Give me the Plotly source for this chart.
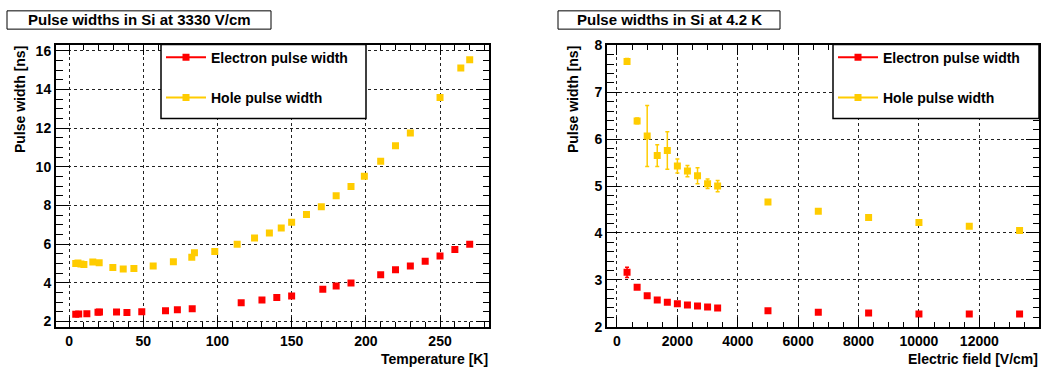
import plotly.graph_objects as go

# ---------------- data ----------------
temp_electron = [4.5, 6.5, 12, 19.5, 20.5, 32, 39, 49, 65, 73, 83, 116, 130, 140, 150,
                 171, 180, 190, 210, 220, 230, 240, 250, 260, 270]
width_electron_T = [2.37, 2.38, 2.40, 2.47, 2.48, 2.48, 2.46, 2.50, 2.55, 2.60, 2.65, 2.96,
                    3.10, 3.23, 3.31, 3.66, 3.83, 3.99, 4.41, 4.67, 4.87, 5.11, 5.39, 5.72, 5.99]

temp_hole = [4.5, 6, 8, 10, 16, 20.3, 29.5, 36.5, 43.7, 56.7, 70.3, 82.7, 84.5, 98.2, 113.3,
             125, 135, 143, 150, 160, 170, 180, 190, 199, 210, 220, 230, 250, 264, 270]
width_hole_T = [4.99, 5.02, 4.97, 4.95, 5.07, 5.04, 4.79, 4.71, 4.74, 4.87, 5.09, 5.32, 5.55,
                5.62, 5.99, 6.32, 6.58, 6.83, 7.13, 7.53, 7.93, 8.50, 8.98, 9.51, 10.29, 11.09,
                11.75, 13.59, 15.12, 15.54]

field = [333, 667, 1000, 1333, 1667, 2000, 2333, 2667, 3000, 3333, 5000, 6667, 8333, 10000,
         11667, 13333]
width_electron_E = [3.16, 2.84, 2.66, 2.57, 2.52, 2.49, 2.46, 2.44, 2.42, 2.40, 2.34, 2.31,
                    2.29, 2.27, 2.27, 2.27]
err_electron_E = [0.11, 0.02, 0.02, 0.02, 0.02, 0.02, 0.02, 0.02, 0.02, 0.02, 0.01, 0.01,
                  0.01, 0.01, 0.01, 0.01]
width_hole_E = [7.66, 6.39, 6.07, 5.65, 5.76, 5.43, 5.32, 5.22, 5.05, 5.00, 4.66, 4.46,
                4.33, 4.22, 4.14, 4.05]
err_hole_E = [0.06, 0.06, 0.65, 0.23, 0.40, 0.15, 0.12, 0.17, 0.10, 0.12, 0.02, 0.02,
              0.02, 0.02, 0.02, 0.02]

titles = ["Pulse widths in Si at 3330 V/cm", "Pulse widths in Si at 4.2 K"]
x_titles = ["Temperature [K]", "Electric field [V/cm]"]
y_title = "Pulse width [ns]"
legend_names = ["Electron pulse width", "Hole pulse width"]

RED = "#ff0000"
YEL = "#ffcc00"
FONT = "Liberation Sans, Arial, Helvetica, sans-serif"
W, H = 1042, 369

def px_x(p):
    return p / W

def px_y(p):
    return 1 - p / H

fig = go.Figure()

# ---- left panel ----
fig.add_trace(go.Scatter(x=temp_electron, y=width_electron_T, mode="markers",
                         marker=dict(symbol="square", size=7, color=RED),
                         xaxis="x", yaxis="y", showlegend=False))
fig.add_trace(go.Scatter(x=temp_hole, y=width_hole_T, mode="markers",
                         marker=dict(symbol="square", size=7, color=YEL),
                         xaxis="x", yaxis="y", showlegend=False))
# ---- right panel ----
fig.add_trace(go.Scatter(x=field, y=width_electron_E, mode="markers",
                         marker=dict(symbol="square", size=7, color=RED),
                         error_y=dict(type="data", array=err_electron_E, color=RED,
                                      thickness=1.5, width=2),
                         xaxis="x2", yaxis="y2", showlegend=False))
fig.add_trace(go.Scatter(x=field, y=width_hole_E, mode="markers",
                         marker=dict(symbol="square", size=7, color=YEL),
                         error_y=dict(type="data", array=err_hole_E, color=YEL,
                                      thickness=1.5, width=2),
                         xaxis="x2", yaxis="y2", showlegend=False))

# legend entries (line + marker, as in the original)
for leg, xa, ya in (("legend", "x", "y"), ("legend2", "x2", "y2")):
    for i, (name, col) in enumerate(zip(legend_names, [RED, YEL])):
        fig.add_trace(go.Scatter(x=[None], y=[None], mode="lines+markers", name=name,
                                 line=dict(color=col, width=2),
                                 marker=dict(symbol="square", size=7, color=col),
                                 legend=leg, legendgroup=f"{leg}{i}",
                                 xaxis=xa, yaxis=ya, showlegend=True))

dom_y = [px_y(333), px_y(39)]
dom_x1 = [px_x(56), px_x(489)]
dom_x2 = [px_x(607), px_x(1039)]

tickfont = dict(family=FONT, size=14, color="black", weight="bold")

def axis(dom, rng, dtick, minor, ticklen, anchor):
    return dict(domain=dom, range=rng, anchor=anchor, tickmode="linear", tick0=0, dtick=dtick,
                tickformat="d",
                ticks="inside", ticklen=ticklen, tickwidth=1, tickcolor="black",
                minor=dict(dtick=minor, ticklen=ticklen / 2, tickwidth=1, tickcolor="black",
                           ticks="inside", showgrid=False, tick0=0),
                showline=True, linewidth=2, linecolor="black", mirror="allticks",
                showgrid=True, gridcolor="#222222", griddash="dot", gridwidth=1,
                zeroline=False, tickfont=tickfont, ticklabelstandoff=0)

legfont = dict(family=FONT, size=14, color="black", weight="bold")

fig.update_layout(
    width=W, height=H, margin=dict(l=0, r=0, t=0, b=0),
    paper_bgcolor="white", plot_bgcolor="white",
    xaxis=axis(dom_x1, [-8.8, 283], 50, 10, 10, "y"),
    yaxis=axis(dom_y, [1.69, 16.33], 2, 0.5, 13, "x"),
    xaxis2=axis(dom_x2, [-331, 13976], 2000, 500, 10, "y2"),
    yaxis2=axis(dom_y, [1.985, 8.02], 1, 0.2, 13, "x2"),
    legend=dict(x=px_x(161), y=px_y(36), xanchor="left", yanchor="top",
                bgcolor="rgba(0,0,0,0)", borderwidth=0, font=legfont, itemwidth=40,
                traceorder="grouped", tracegroupgap=19),
    legend2=dict(x=px_x(833), y=px_y(36), xanchor="left", yanchor="top",
                 bgcolor="rgba(0,0,0,0)", borderwidth=0, font=legfont, itemwidth=40,
                 traceorder="grouped", tracegroupgap=19),
)

# legend frames (white boxes over the plot area)
for x0, x1 in [(161, 366), (833, 1039)]:
    fig.add_shape(type="rect", xref="paper", yref="paper", layer="above",
                  x0=px_x(x0), x1=px_x(x1), y0=px_y(116), y1=px_y(39),
                  line=dict(color="black", width=1.5), fillcolor="white")

# titles in boxes
for (x0, x1), txt in zip([(7, 271), (558, 780)], titles):
    fig.add_shape(type="rect", xref="paper", yref="paper",
                  x0=px_x(x0), x1=px_x(x1), y0=px_y(23), y1=px_y(4),
                  line=dict(color="black", width=1), fillcolor="white")
    fig.add_annotation(xref="paper", yref="paper", x=px_x((x0 + x1) / 2), y=px_y(13.5),
                       text=txt, showarrow=False, xanchor="center", yanchor="middle",
                       font=dict(family=FONT, size=15, color="black", weight="bold"))

# axis titles
for xr, txt in zip([489, 1039], x_titles):
    fig.add_annotation(xref="paper", yref="paper", x=px_x(xr), y=px_y(366),
                       text=txt, showarrow=False, xanchor="right", yanchor="middle",
                       borderpad=0,
                       font=dict(family=FONT, size=14, color="black", weight="bold"))
for xc in [20, 573]:
    fig.add_annotation(xref="paper", yref="paper", x=px_x(xc), y=px_y(39),
                       text=y_title, showarrow=False, textangle=-90,
                       xanchor="center", yanchor="top",
                       font=dict(family=FONT, size=14, color="black", weight="bold"))

fig.write_html("out.html")
